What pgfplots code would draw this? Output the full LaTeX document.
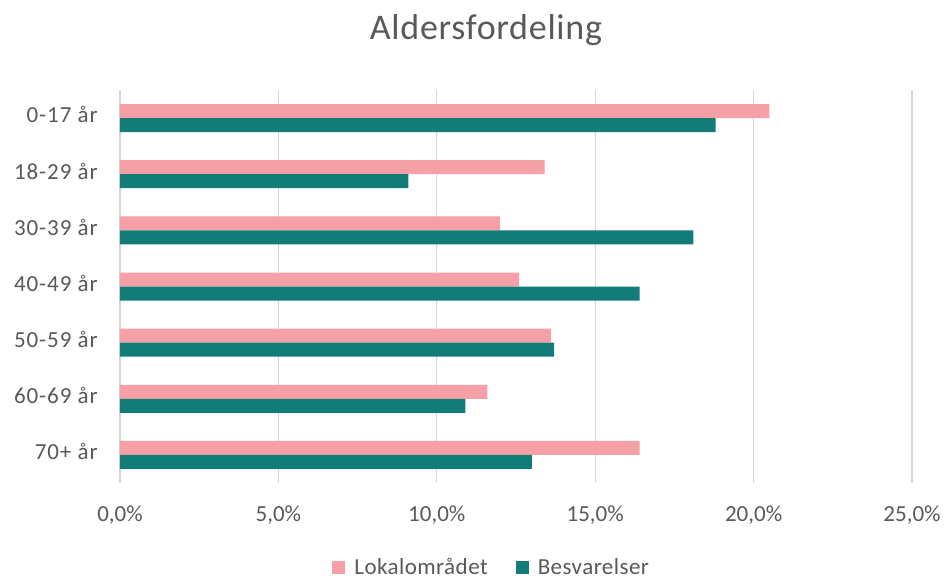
\documentclass[border=0pt]{standalone}
\usepackage{pgfplots}
\pgfplotsset{compat=1.18}
\usepackage{fontspec}
\setmainfont{Carlito}
\definecolor{pinkbar}{HTML}{F4A0A6}
\definecolor{tealbar}{HTML}{127C79}
\definecolor{txt}{HTML}{595959}
\definecolor{gridc}{HTML}{D6D6D6}
\begin{document}
\begin{tikzpicture}
\useasboundingbox (-120pt,-96pt) rectangle (825pt,483pt);
\begin{axis}[
  at={(0,0)}, anchor=south west,
  scale only axis,
  width=792pt, height=393pt,
  xmin=0, xmax=25, ymin=-0.5, ymax=6.5,
  xbar, bar width=14pt,
  axis line style={draw=none},
  tick style={draw=none},
  xmajorgrids, grid style={gridc, line width=1.3pt},
  xtick={0,5,10,15,20,25},
  xticklabels={{0,0\%},{5,0\%},{10,0\%},{15,0\%},{20,0\%},{25,0\%}},
  ytick={0,1,2,3,4,5,6},
  yticklabels={70+ år,60-69 år,50-59 år,40-49 år,30-39 år,18-29 år,0-17 år},
  xticklabel style={font=\fontsize{23}{27}\selectfont, text=txt, anchor=base, inner sep=0pt, yshift=-38.5pt},
  yticklabel style={font=\fontsize{23}{27}\selectfont\addfontfeature{LetterSpace=4}, text=txt, anchor=base east, inner sep=0pt, xshift=-18pt, yshift=-4.8pt},
  legend columns=2,
  legend style={at={(0.4680,-0.2150)}, anchor=center, draw=none, fill=none,
    font=\fontsize{23}{27}\selectfont\addfontfeature{LetterSpace=2}, text=txt,
    nodes={inner sep=0pt, anchor=west},
    /tikz/every even column/.append style={column sep=28pt}},
  legend image code/.code={\fill[#1] (0pt,-6.5pt) rectangle (13pt,6.5pt); \path (22pt,0pt);},
]
\addplot[fill=pinkbar, draw=none, bar shift=7pt] coordinates {
  (16.4,0) (11.6,1) (13.6,2) (12.6,3) (12.0,4) (13.4,5) (20.5,6)};
\addplot[fill=tealbar, draw=none, bar shift=-7pt] coordinates {
  (13.0,0) (10.9,1) (13.7,2) (16.4,3) (18.1,4) (9.1,5) (18.8,6)};
\legend{Lokalområdet, Besvarelser}
\end{axis}
\node[anchor=base, text=txt, font=\fontsize{36}{42}\selectfont\addfontfeature{LetterSpace=2}, inner sep=0pt] at (366pt,443pt) {Aldersfordeling};
\end{tikzpicture}
\end{document}
